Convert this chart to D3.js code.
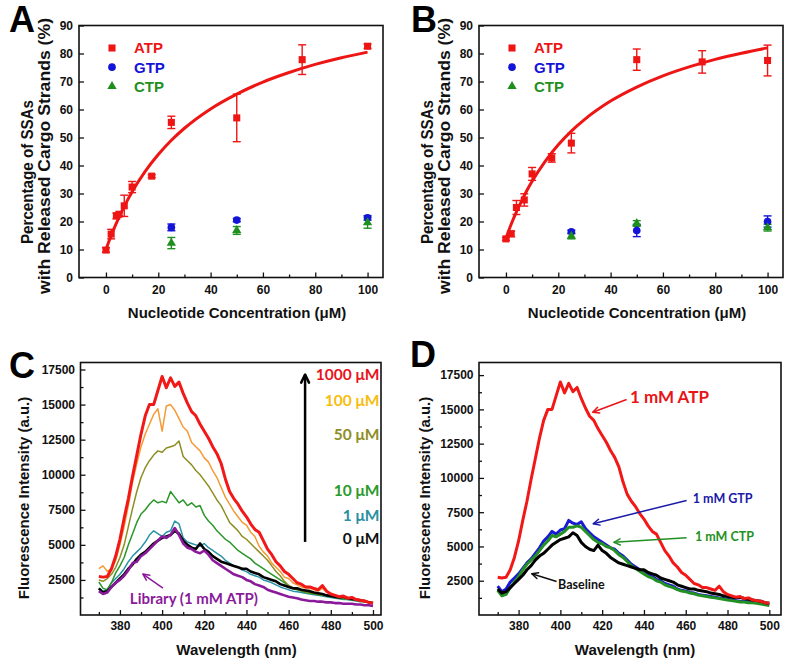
<!DOCTYPE html>
<html>
<head>
<meta charset="utf-8">
<script src="https://cdn.jsdelivr.net/npm/d3@7"></script>
<style>
body { margin: 0; background: #fff; }
svg { display: block; }
</style>
</head>
<body>
<svg id="fig" width="800" height="663"></svg>
<script>
// ---- panels A / B : release vs nucleotide concentration ----
let ntpX = [25, 50, 100]

let atpA_x = [0, 2, 4, 5, 7, 10, 17.5, 25, 50, 75, 100]
let atpA_y = [9.8, 15.5, 22.0, 22.6, 25.6, 32.3, 36.2, 55.4, 57.0, 77.8, 82.6]
let atpA_err = [0.8, 1.7, 1.0, 0.6, 3.8, 2.0, 0.5, 2.2, 8.5, 5.3, 0.8]
let gtpA_y = [17.9, 20.5, 21.3]
let gtpA_err = [1.2, 0.6, 0.8]
let ctpA_y = [12.3, 16.8, 19.6]
let ctpA_err = [2.0, 1.4, 2.0]

let atpB_x = [0, 2, 4, 7, 10, 17.5, 25, 50, 75, 100]
let atpB_y = [13.8, 15.6, 25.0, 27.7, 37.0, 42.7, 48.0, 77.8, 77.0, 77.5]
let atpB_err = [0.5, 1.0, 2.5, 2.2, 2.3, 1.5, 3.5, 3.8, 4.0, 5.5]
let gtpB_y = [16.3, 16.8, 20.0]
let gtpB_err = [0.6, 2.2, 2.0]
let ctpB_y = [14.8, 19.3, 17.8]
let ctpB_err = [1.0, 1.0, 1.2]

// fitted curves
let fitX = [0, 2, 4, 6, 8, 10, 15, 20, 25, 30, 40, 50, 60, 70, 80, 90, 100]
let fitA_y = [10, 15.0, 19.4, 23.5, 27.2, 30.6, 37.9, 43.9, 49.0, 53.3, 60.2, 65.5, 69.8, 73.2, 76.1, 78.5, 80.5]
let fitB_y = [14, 19.0, 23.4, 27.4, 31.1, 34.4, 41.5, 47.4, 52.3, 56.4, 63.0, 68.0, 72.0, 75.2, 77.9, 80.1, 82.0]

let concTicks = [0, 20, 40, 60, 80, 100]
let pctTicks = [0, 10, 20, 30, 40, 50, 60, 70, 80, 90]

// ---- panels C / D : fluorescence spectra ----
let wavelength = d3.range(370, 501, 2)

let atp1000 = [2750, 2700, 2750, 3300, 4200, 5400, 6900, 8300, 9900, 11400,
    12900, 14200, 15000, 15000, 16000, 17000, 16200, 16900, 16300, 16600,
    15800, 15100, 14500, 14200, 13600, 13100, 12600, 12000, 11500, 10800,
    9700, 8800, 8300, 7900, 7400, 7000, 6500, 6100, 5900, 5300,
    4700, 4300, 3800, 3500, 3100, 2900, 2600, 2300, 2200, 2000,
    2000, 1900, 1800, 2100, 1700, 1500, 1400, 1300, 1350, 1200,
    1250, 1100, 1050, 1000, 900, 850]
let atp100 = [3300, 3500, 3100, 3300, 3900, 5000, 6300, 7800, 9500, 10800,
    12000, 12900, 13600, 14300, 14700, 13100, 14900, 15000, 14600, 14000,
    13400, 13100, 12300, 12000, 11700, 11200, 10900, 10300, 9800, 9100,
    8400, 7900, 7400, 7000, 6600, 6400, 5900, 5600, 4900, 4500,
    4200, 3700, 3400, 3100, 2700, 2600, 2300, 2150, 2000, 1950,
    1900, 1800, 1700, 1900, 1650, 1500, 1400, 1300, 1300, 1200,
    1150, 1100, 1000, 950, 900, 850]
let atp50 = [2500, 2400, 2600, 2900, 3400, 4100, 5000, 6300, 7600, 8800,
    9800, 10500, 11000, 11400, 11700, 11600, 11900, 12000, 12100, 12400,
    11300, 11000, 10700, 10300, 10000, 9600, 9200, 8700, 8200, 7800,
    7200, 6600, 6300, 6000, 5600, 5400, 5100, 4800, 4500, 4200,
    3900, 3500, 3100, 2800, 2400, 2100, 1950, 1850, 1750, 1650,
    1600, 1550, 1500, 1450, 1400, 1350, 1300, 1250, 1200, 1150,
    1100, 1050, 1000, 950, 900, 850]
let atp10 = [2350, 1900, 1800, 2300, 3000, 3500, 4100, 5000, 5800, 6600,
    7200, 7500, 7900, 8200, 8000, 8100, 8000, 8800, 8400, 8000,
    8200, 7800, 8000, 7700, 7800, 7100, 6700, 6400, 6000, 5700,
    5400, 5200, 4900, 4600, 4400, 4200, 4000, 3700, 3500, 3300,
    3100, 2900, 2700, 2500, 2300, 2100, 1900, 1800, 1700, 1600,
    1550, 1500, 1450, 1400, 1350, 1300, 1250, 1200, 1150, 1100,
    1080, 1050, 1000, 950, 900, 850]
let atp1 = [1900, 1700, 1800, 2300, 2600, 2900, 3300, 3800, 4200, 4500,
    4800, 5200, 5700, 6000, 5800, 5600, 5900, 6000, 6700, 6500,
    5500, 5200, 5100, 5000, 4900, 5100, 4800, 4600, 4400, 4200,
    3900, 3700, 3500, 3400, 3200, 3100, 2900, 2800, 2700, 2500,
    2400, 2300, 2150, 2000, 1900, 1800, 1700, 1650, 1600, 1550,
    1500, 1450, 1400, 1350, 1300, 1250, 1200, 1150, 1100, 1100,
    1050, 1000, 950, 950, 900, 850]
let baseline = [1900, 1600, 1700, 2000, 2300, 2600, 2900, 3300, 3600, 4000,
    4300, 4500, 4800, 5100, 5300, 5500, 5600, 5700, 6000, 5800,
    5300, 5000, 4800, 4700, 5100, 4700, 4500, 4200, 4000, 3800,
    3700, 3600, 3500, 3400, 3300, 3300, 3100, 3000, 2900, 2700,
    2600, 2500, 2400, 2200, 2100, 2000, 1900, 1900, 1800, 1750,
    1700, 1600, 1550, 1500, 1400, 1350, 1300, 1250, 1300, 1200,
    1150, 1100, 1050, 1000, 900, 850]
let library = [1700, 1500, 1600, 2000, 2300, 2500, 2800, 3200, 3700, 3800,
    4200, 4400, 4700, 5000, 5300, 5600, 5500, 5700, 6200, 5700,
    5100, 4800, 4700, 4500, 4400, 4600, 4300, 3900, 3700, 3500,
    3300, 3100, 2900, 2800, 2700, 2500, 2400, 2200, 2100, 2000,
    1800, 1700, 1600, 1500, 1400, 1300, 1250, 1200, 1100, 1050,
    1000, 1000, 950, 950, 900, 900, 850, 850, 800, 800,
    800, 750, 750, 700, 700, 650]
let gtp1mM = [2100, 1700, 1900, 2400, 2700, 3000, 3400, 3800, 4100, 4500,
    4900, 5400, 5700, 6100, 5900, 6200, 6300, 6900, 6700, 6600,
    6800, 6300, 6000, 5700, 5500, 5300, 5100, 4900, 4800, 4500,
    4300, 4000, 3700, 3500, 3300, 3100, 2900, 2800, 2600, 2500,
    2300, 2200, 2100, 1900, 1800, 1750, 1650, 1600, 1500, 1450,
    1400, 1350, 1300, 1250, 1200, 1150, 1100, 1050, 1000, 1000,
    950, 950, 900, 850, 800, 750]
let ctp1mM = [1800, 1400, 1500, 2000, 2400, 2800, 3300, 3700, 4000, 4300,
    4700, 5100, 5400, 5800, 5700, 5900, 6100, 6400, 6400, 6500,
    6400, 6100, 5800, 5500, 5300, 5200, 5000, 4900, 4700, 4400,
    4200, 3900, 3600, 3400, 3200, 3000, 2800, 2700, 2500, 2400,
    2200, 2100, 2000, 1850, 1750, 1700, 1600, 1550, 1450, 1400,
    1350, 1300, 1250, 1200, 1150, 1100, 1050, 1000, 950, 950,
    900, 900, 850, 800, 750, 700]

let waveTicks = [380, 400, 420, 440, 460, 480, 500]
let waveMinor = [370, 390, 410, 430, 450, 470, 490]
let fluoTicks = [2500, 5000, 7500, 10000, 12500, 15000, 17500]
let fluoMinor = [1250, 3750, 6250, 8750, 11250, 13750, 16250]

let RED = '#ee1515', BLUE = '#1414d8', GREEN = '#1f8f1f'
let FONT = '"Liberation Sans", Arial, sans-serif'
let CAL = 'Lato, "Open Sans", sans-serif'

let svg = d3.select('#fig')
svg.append('rect').attr('width', 800).attr('height', 663).attr('fill', '#fff')

let defs = svg.append('defs')

let makePanel = (o) => {
    let g = svg.append('g').attr('transform', 'translate(' + o.left + ',' + o.top + ')')
    let x = d3.scaleLinear().domain(o.xDomain).range([0, o.width])
    let y = d3.scaleLinear().domain(o.yDomain).range([o.height, 0])

    let styleAxis = (sel) => {
        sel.select('.domain').remove()
        sel.selectAll('line').attr('stroke', '#111').attr('stroke-width', 1.3)
        sel.selectAll('text').attr('font-family', FONT).attr('font-weight', 'bold')
            .attr('font-size', o.tickFont).attr('fill', '#111')
    }

    g.append('g').attr('transform', 'translate(0,' + o.height + ')')
        .call(d3.axisBottom(x).tickValues(o.xMajor).tickSize(-5).tickPadding(o.xPad).tickFormat(d3.format('d')))
        .call(styleAxis)
    g.append('g').attr('transform', 'translate(0,' + o.height + ')')
        .call(d3.axisBottom(x).tickValues(o.xMinor).tickSize(-3).tickFormat(''))
        .call(styleAxis)
    g.append('g')
        .call(d3.axisLeft(y).tickValues(o.yMajor).tickSize(-5).tickPadding(o.yPad).tickFormat(d3.format('d')))
        .call(styleAxis)
    if (o.yMinor) {
        g.append('g')
            .call(d3.axisLeft(y).tickValues(o.yMinor).tickSize(-3).tickFormat(''))
            .call(styleAxis)
    }

    let plot = g.append('g')
    g.append('rect').attr('width', o.width).attr('height', o.height)
        .attr('fill', 'none').attr('stroke', '#111').attr('stroke-width', 1.6)

    // panel letter
    svg.append('text').attr('x', o.letterX).attr('y', o.letterY).text(o.letter)
        .attr('font-family', FONT).attr('font-weight', 'bold').attr('font-size', 36).attr('fill', '#000')

    return { g: g, plot: plot, x: x, y: y }
}

let yTitle = (cx, cy, txt, size, len) => {
    let t = svg.append('text')
        .attr('transform', 'translate(' + cx + ',' + cy + ') rotate(-90)')
        .attr('text-anchor', 'middle').attr('dy', '0.35em')
        .attr('font-family', FONT).attr('font-weight', 'bold').attr('font-size', size)
        .attr('fill', '#111').text(txt)
    if (len) t.attr('textLength', len).attr('lengthAdjust', 'spacingAndGlyphs')
}
let xTitle = (cx, cy, txt, size) => {
    svg.append('text').attr('x', cx).attr('y', cy).attr('dy', '0.35em')
        .attr('text-anchor', 'middle')
        .attr('font-family', FONT).attr('font-weight', 'bold').attr('font-size', size)
        .attr('fill', '#111').text(txt)
}

let drawErr = (p, xs, ys, es, color) => {
    xs.forEach((xv, i) => {
        let cx = p.x(xv)
        let y1 = p.y(ys[i] - es[i]), y2 = p.y(ys[i] + es[i])
        p.plot.append('line').attr('x1', cx).attr('x2', cx).attr('y1', y1).attr('y2', y2)
            .attr('stroke', color).attr('stroke-width', 1.4)
        ;[y1, y2].forEach((yy) => {
            p.plot.append('line').attr('x1', cx - 4).attr('x2', cx + 4).attr('y1', yy).attr('y2', yy)
                .attr('stroke', color).attr('stroke-width', 1.4)
        })
    })
}

let symbolFor = {
    square: d3.symbol(d3.symbolSquare, 50),
    circle: d3.symbol(d3.symbolCircle, 46),
    triangle: d3.symbol(d3.symbolTriangle, 38)
}

let drawPoints = (p, xs, ys, shape, color) => {
    p.plot.selectAll(null).data(xs).enter().append('path')
        .attr('d', symbolFor[shape])
        .attr('transform', (d, i) => 'translate(' + p.x(d) + ',' + p.y(ys[i]) + ')')
        .attr('fill', color)
}

let drawRelease = (o, data) => {
    let p = makePanel(o)
    let line = d3.line().x((d) => p.x(d[0])).y((d) => p.y(d[1])).curve(d3.curveMonotoneX)
    p.plot.append('path').datum(fitX.map((v, i) => [v, data.fit[i]]))
        .attr('d', line).attr('fill', 'none').attr('stroke', RED).attr('stroke-width', 3)

    drawErr(p, data.atpX, data.atpY, data.atpE, RED)
    drawErr(p, ntpX, data.ctpY, data.ctpE, GREEN)
    drawErr(p, ntpX, data.gtpY, data.gtpE, BLUE)
    drawPoints(p, data.atpX, data.atpY, 'square', RED)
    drawPoints(p, ntpX, data.gtpY, 'circle', BLUE)
    drawPoints(p, ntpX, data.ctpY, 'triangle', GREEN)

    // legend
    let leg = [['ATP', 'square', RED], ['GTP', 'circle', BLUE], ['CTP', 'triangle', GREEN]]
    leg.forEach((d, i) => {
        let ly = 22.5 + i * 19.2
        p.g.append('path').attr('d', symbolFor[d[1]]).attr('fill', d[2])
            .attr('transform', 'translate(' + o.legX + ',' + ly + ')')
        p.g.append('text').attr('x', o.legX + 22).attr('y', ly).attr('dy', '0.36em')
            .attr('font-family', FONT).attr('font-weight', 'bold').attr('font-size', 15)
            .attr('fill', d[2]).text(d[0])
    })

    yTitle(o.left - 52, 172, 'Percentage of SSAs', 16, 144)
    yTitle(o.left - 35, 156, 'with Released Cargo Strands (%)', 16, 276)
    xTitle(o.left + 158, 313, 'Nucleotide Concentration (\u03bcM)', 15)
}

let panelAB = {
    top: 25.5, width: 304, height: 252,
    xDomain: [-10.3, 105.9], yDomain: [0, 90],
    xMajor: concTicks, xMinor: [10, 30, 50, 70, 90], yMajor: pctTicks,
    xPad: 8, yPad: 6, tickFont: 12, legX: 33
}

drawRelease(Object.assign({}, panelAB, { left: 79, letter: 'A', letterX: 9, letterY: 32 }),
    { atpX: atpA_x, atpY: atpA_y, atpE: atpA_err, gtpY: gtpA_y, gtpE: gtpA_err,
      ctpY: ctpA_y, ctpE: ctpA_err, fit: fitA_y })
drawRelease(Object.assign({}, panelAB, { left: 479, letter: 'B', letterX: 411, letterY: 32 }),
    { atpX: atpB_x, atpY: atpB_y, atpE: atpB_err, gtpY: gtpB_y, gtpE: gtpB_err,
      ctpY: ctpB_y, ctpE: ctpB_err, fit: fitB_y })

// ---- spectra ----
let arrowHead = (g, x1, y1, x2, y2, color, w, len) => {
    let a = Math.atan2(y2 - y1, x2 - x1)
    let pts = [-0.45, 0.45].map((da) => [x2 - len * Math.cos(a + da), y2 - len * Math.sin(a + da)])
    g.append('line').attr('x1', x1).attr('y1', y1).attr('x2', x2).attr('y2', y2)
        .attr('stroke', color).attr('stroke-width', w)
    g.append('path').attr('d', 'M' + pts[0] + 'L' + x2 + ',' + y2 + 'L' + pts[1])
        .attr('fill', 'none').attr('stroke', color).attr('stroke-width', w)
        .attr('stroke-linecap', 'round').attr('stroke-linejoin', 'round')
}

let drawSpectra = (o, series) => {
    let p = makePanel(o)
    let line = d3.line().x((d, i) => p.x(wavelength[i])).y((d) => p.y(d))
    series.forEach((s) => {
        p.plot.append('path').datum(s.values).attr('d', line)
            .attr('fill', 'none').attr('stroke', s.color).attr('stroke-width', s.width)
            .attr('stroke-linejoin', 'round')
    })
    yTitle(o.titleX, 498, 'Fluorescence Intensity (a.u.)', 15)
    xTitle(o.left + 156, 650, 'Wavelength (nm)', 15)
    return p
}

let specBase = {
    top: 362.5, height: 252.5,
    xMajor: waveTicks, xMinor: waveMinor, yMajor: fluoTicks, yMinor: fluoMinor,
    xPad: 6, yPad: 5.5, tickFont: 12
}

let pC = drawSpectra(Object.assign({}, specBase, {
    left: 80.5, width: 300.5, xDomain: [361.3, 503.8], yDomain: [0, 18000],
    letter: 'C', letterX: 9, letterY: 378, titleX: 24
}), [
    { values: atp1, color: '#2b93a6', width: 1.5 },
    { values: atp10, color: '#2a962a', width: 1.5 },
    { values: atp50, color: '#8e8e22', width: 1.5 },
    { values: atp100, color: '#f59a35', width: 1.5 },
    { values: baseline, color: '#000', width: 2.6 },
    { values: library, color: '#8a1a9a', width: 2.6 },
    { values: atp1000, color: '#f21818', width: 3 }
])

let concLabels = [
    ['1000 \u03bcM', '#e8141c', 17150],
    ['100 \u03bcM', '#f7bd10', 15330],
    ['50 \u03bcM', '#8e8e26', 12900],
    ['10 \u03bcM', '#2c9a2c', 8870],
    ['1 \u03bcM', '#2a8fa0', 7070],
    ['0 \u03bcM', '#111', 5480]
]
concLabels.forEach((d) => {
    pC.g.append('text').attr('x', 299).attr('y', pC.y(d[2])).attr('dy', '0.36em')
        .attr('text-anchor', 'end').attr('font-family', CAL).attr('font-weight', 'bold')
        .attr('font-size', 15.5).attr('fill', d[1]).text(d[0])
})
arrowHead(pC.g, pC.x(467.8), pC.y(5210), pC.x(467.8), pC.y(17140), '#000', 2.5, 9)
arrowHead(pC.g, pC.x(400.4), pC.y(1920), pC.x(390.9), pC.y(2920), '#8a1a9a', 1.5, 7)
pC.g.append('text').attr('x', pC.x(384.7)).attr('y', pC.y(1140)).attr('dy', '0.36em')
    .attr('font-family', CAL).attr('font-weight', 'bold').attr('font-size', 15)
    .attr('fill', '#8a1a9a').text('Library (1 mM ATP)')

let pD = drawSpectra(Object.assign({}, specBase, {
    left: 479, width: 302, xDomain: [361.05, 505.6], yDomain: [0, 18420],
    letter: 'D', letterX: 410, letterY: 367, titleX: 425
}), [
    { values: gtp1mM, color: '#1a1ad2', width: 3 },
    { values: ctp1mM, color: '#229022', width: 3 },
    { values: baseline, color: '#000', width: 3 },
    { values: atp1000, color: '#f21818', width: 3 }
])

let dNotes = [
    { text: '1 mM ATP', color: '#e81418', size: 17, tx: 433.3, ty: 15890, from: [431.7, 15720], to: [415.5, 14790] },
    { text: '1 mM GTP', color: '#1a1aa8', size: 12.5, tx: 463.4, ty: 8490, from: [460.4, 8360], to: [415.7, 6660] },
    { text: '1 mM CTP', color: '#229022', size: 12.5, tx: 464.4, ty: 5730, from: [460.4, 5640], to: [425.6, 5300] },
    { text: 'Baseline', color: '#111', size: 12.5, tx: 398.9, ty: 2205, from: [398.2, 2450], to: [386.3, 3010] }
]
dNotes.forEach((d) => {
    arrowHead(pD.g, pD.x(d.from[0]), pD.y(d.from[1]), pD.x(d.to[0]), pD.y(d.to[1]), d.color, 1.5, 7)
    pD.g.append('text').attr('x', pD.x(d.tx)).attr('y', pD.y(d.ty)).attr('dy', '0.36em')
        .attr('font-family', CAL).attr('font-weight', 'bold').attr('font-size', d.size)
        .attr('fill', d.color).text(d.text)
})
</script>
</body>
</html>
